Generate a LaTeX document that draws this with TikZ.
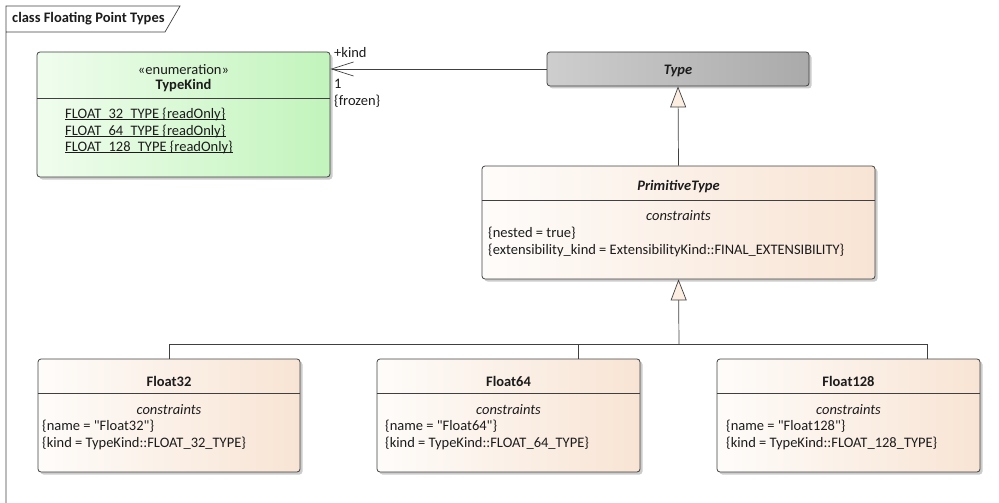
\documentclass[tikz,border=0pt]{standalone}
\usepackage{fontspec}
\setmainfont{Carlito}
\usetikzlibrary{arrows.meta,shadows}
\definecolor{umlline}{RGB}{64,64,64}
\definecolor{umltext}{RGB}{28,28,28}
\definecolor{enumleft}{RGB}{240,253,238}
\definecolor{enumright}{RGB}{194,244,188}
\definecolor{typeleft}{RGB}{206,206,206}
\definecolor{typeright}{RGB}{170,170,170}
\definecolor{classleft}{RGB}{254,252,250}
\definecolor{classright}{RGB}{248,228,212}
\definecolor{genfill}{RGB}{252,238,224}

\begin{document}
\fontsize{14.5}{17}\selectfont
\begin{tikzpicture}[x=1pt,y=-1pt,
  umlbox/.style={draw=umlline,line width=0.8pt,rounded corners=3pt,inner sep=0pt,
    drop shadow={shadow xshift=2.5pt,shadow yshift=-2.5pt,fill=black!20,opacity=1}},
  enumbox/.style={umlbox,left color=enumleft,right color=enumright},
  greybox/.style={umlbox,left color=typeleft,right color=typeright},
  classbox/.style={umlbox,left color=classleft,right color=classright},
  divider/.style={draw=umlline,line width=0.6pt},
  underl/.style={draw=umltext,line width=0.5pt},
  txt/.style={inner sep=0pt,anchor=west,text=umltext},
  ctxt/.style={inner sep=0pt,text=umltext},
  link/.style={draw=umlline,line width=0.7pt},
  gen/.style={link,-{Triangle[width=16pt,length=21pt,fill=genfill]}},
  assoc/.style={link,-{Straight Barb[length=22pt,width=14pt]}}]
\useasboundingbox (0,0) rectangle (999,503);
\draw [line width=0.7pt, umlline] (6,503) -- (6,6) -- (180,6) -- (165,32) -- (6,32);
\node [txt,font=\bfseries] (frame) at (12,19) {class Floating Point Types};

\node [enumbox,minimum width=293pt,minimum height=125pt] (tk) at (183.5,114.5) {};
\draw [divider] ([yshift=-47pt]tk.north west) -- ([yshift=-47pt]tk.north east);
\node [ctxt] (tkstereo) at (183.5,70) {«enumeration»};
\node [ctxt,font=\bfseries] (tkname) at (183.5,86) {TypeKind};
\node [txt] (lit32) at (65,114) {FLOAT\_32\_TYPE \{readOnly\}};
\node [txt] (lit64) at (65,131) {FLOAT\_64\_TYPE \{readOnly\}};
\node [txt] (lit128) at (65,147) {FLOAT\_128\_TYPE \{readOnly\}};
\foreach \lit in {lit32,lit64,lit128}
  \draw [underl] ([yshift=-1.6pt]\lit.base west) -- ([yshift=-1.6pt]\lit.base east);

\node [greybox,minimum width=262pt,minimum height=34pt] (type) at (678,69) {};
\node [ctxt,font=\bfseries\itshape] (typename) at (678,71) {Type};

\node [classbox,minimum width=393pt,minimum height=113pt] (prim) at (678.5,222.5) {};
\draw [divider] ([yshift=-35pt]prim.north west) -- ([yshift=-35pt]prim.north east);
\node [ctxt,font=\bfseries\itshape] (primname) at (678.5,187) {PrimitiveType};
\node [ctxt,font=\itshape] (primcons) at (678.5,216) {constraints};
\node [txt] (primnested) at (488,233) {\{nested = true\}};
\node [txt] (primext) at (488,250) {\{extensibility\_kind = ExtensibilityKind::FINAL\_EXTENSIBILITY\}};

\node [classbox,minimum width=262pt,minimum height=113pt] (f32) at (169,415.5) {};
\draw [divider] ([yshift=-35pt]f32.north west) -- ([yshift=-35pt]f32.north east);
\node [ctxt,font=\bfseries] (f32name) at (169,381) {Float32};
\node [ctxt,font=\itshape] (f32cons) at (169,410) {constraints};
\node [txt] (f32n) at (42,426) {\{name = \textquotedbl Float32\textquotedbl\}};
\node [txt] (f32k) at (42,443) {\{kind = TypeKind::FLOAT\_32\_TYPE\}};

\node [classbox,minimum width=263pt,minimum height=113pt] (f64) at (508.5,415.5) {};
\draw [divider] ([yshift=-35pt]f64.north west) -- ([yshift=-35pt]f64.north east);
\node [ctxt,font=\bfseries] (f64name) at (508.5,381) {Float64};
\node [ctxt,font=\itshape] (f64cons) at (508.5,410) {constraints};
\node [txt] (f64n) at (385,426) {\{name = \textquotedbl Float64\textquotedbl\}};
\node [txt] (f64k) at (385,443) {\{kind = TypeKind::FLOAT\_64\_TYPE\}};

\node [classbox,minimum width=263pt,minimum height=113pt] (f128) at (848.5,415.5) {};
\draw [divider] ([yshift=-35pt]f128.north west) -- ([yshift=-35pt]f128.north east);
\node [ctxt,font=\bfseries] (f128name) at (848.5,381) {Float128};
\node [ctxt,font=\itshape] (f128cons) at (848.5,410) {constraints};
\node [txt] (f128n) at (726,426) {\{name = \textquotedbl Float128\textquotedbl\}};
\node [txt] (f128k) at (726,443) {\{kind = TypeKind::FLOAT\_128\_TYPE\}};

\draw [assoc] (type.west) -- (tk.east |- type.west);
\node [txt] (role) at (334,53) {+kind};
\node [txt] (mult) at (334,84) {1};
\node [txt] (frozen) at (334,101) {\{frozen\}};

\coordinate (bus) at (679,344);
\draw [gen] (prim.north) -- (type.south);
\draw [gen] (bus) -- (prim.south);
\draw [link] (f32.north) |- (bus);
\draw [link] ([xshift=69.5pt]f64.north) |- (bus);
\draw [link] ([xshift=78.5pt]f128.north) |- (bus);
\end{tikzpicture}
\end{document}
